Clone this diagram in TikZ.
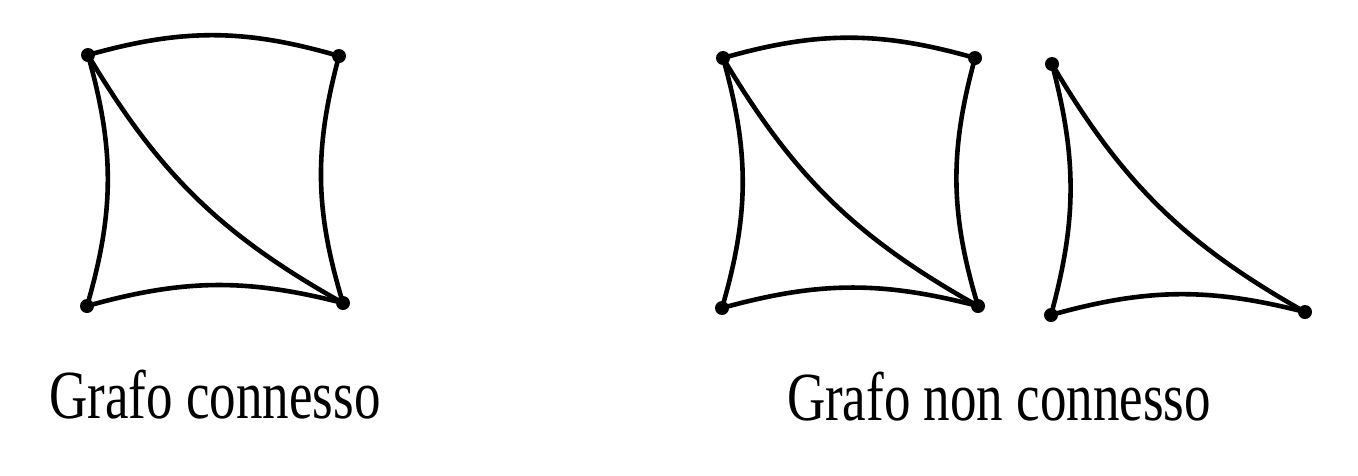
\documentclass[tikz,border=0pt]{standalone}
\usepackage{fontspec}
\setmainfont{Liberation Serif}
\begin{document}
\begin{tikzpicture}[x=1pt,y=-1pt,
  vtx/.style={circle,fill=black,inner sep=0pt,minimum size=14pt},
  edge/.style={line width=4.6pt,line cap=round},
  lbl/.style={anchor=base,inner sep=0pt,font=\fontsize{53}{60}\selectfont}]
\useasboundingbox (0,0) rectangle (1358,475);
% left graph
\node[vtx] (a) at (88,55) {};
\node[vtx] (b) at (339,56) {};
\node[vtx] (c) at (87,306) {};
\node[vtx] (d) at (343,303) {};
\draw[edge] (a.center) to[bend left=16] (b.center);
\draw[edge] (a.center) to[bend left=16] (c.center);
\draw[edge] (b.center) to[bend right=16] (d.center);
\draw[edge] (c.center) to[bend left=15] (d.center);
\draw[edge] (a.center) to[bend right=15] (d.center);
% right graph, square part
\node[vtx] (e) at (723,58) {};
\node[vtx] (f) at (975,58) {};
\node[vtx] (g) at (722,308) {};
\node[vtx] (h) at (978,306) {};
\draw[edge] (e.center) to[bend left=16] (f.center);
\draw[edge] (e.center) to[bend left=16] (g.center);
\draw[edge] (f.center) to[bend right=16] (h.center);
\draw[edge] (g.center) to[bend left=15] (h.center);
\draw[edge] (e.center) to[bend right=15] (h.center);
% triangle
\node[vtx] (i) at (1052,64) {};
\node[vtx] (j) at (1051,315) {};
\node[vtx] (k) at (1305,312) {};
\draw[edge] (i.center) to[bend left=15] (j.center);
\draw[edge] (j.center) to[bend left=15] (k.center);
\draw[edge] (i.center) to[bend right=15] (k.center);
% labels
\node[lbl] (l1) at (215,418) {\scalebox{1}[1.3]{Grafo connesso}};
\node[lbl] (l2) at (999,420) {\scalebox{1}[1.3]{Grafo non connesso}};
\end{tikzpicture}
\end{document}
